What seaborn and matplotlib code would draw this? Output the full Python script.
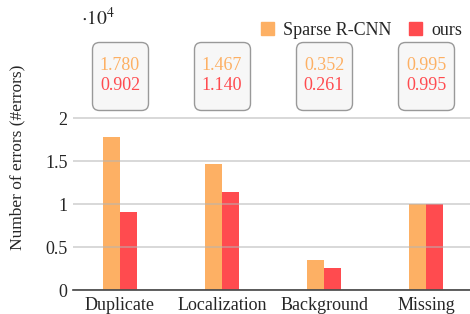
import pandas as pd
import matplotlib
matplotlib.use("Agg")
import matplotlib.pyplot as plt
import seaborn as sns
from matplotlib.patches import Patch
from matplotlib.offsetbox import DrawingArea, AnnotationBbox

# data (values in units of 10^4)
categories = ["Duplicate", "Localization", "Background", "Missing"]
methods = ["Sparse R-CNN", "ours"]
sparse_rcnn = [1.780, 1.467, 0.352, 0.995]
ours = [0.902, 1.140, 0.261, 0.995]
y_ticks = [0, 0.5, 1, 1.5, 2]
y_tick_labels = ["0", "0.5", "1", "1.5", "2"]

colors = {"Sparse R-CNN": "#FDB064", "ours": "#FF4B4F"}

df = pd.DataFrame({
    "category": categories * 2,
    "method": [methods[0]] * 4 + [methods[1]] * 4,
    "errors": sparse_rcnn + ours,
})

sns.set_style("white")
plt.rcParams["font.family"] = ["Liberation Serif", "DejaVu Serif"]
plt.rcParams["mathtext.fontset"] = "stix"

fig = plt.figure(figsize=(4.7, 3.14), dpi=100)
ax = fig.add_axes([0.1553, 0.0764, 0.8447, 0.7806])

sns.barplot(data=df, x="category", y="errors", hue="method", palette=colors,
            width=1 / 3, gap=0, saturation=1, ax=ax, legend=False, zorder=1,
            linewidth=0)

ax.set_xlim(-0.46, 3.43)
ax.set_ylim(0, 2.85)
ax.set_yticks(y_ticks)
ax.set_yticklabels(y_tick_labels)
ax.set_xlabel("")
ax.set_ylabel("Number of errors (#errors)", fontsize=12.5)
ax.yaxis.set_label_coords(-0.12, 0.543)
ax.tick_params(axis="both", labelsize=13, length=0)
ax.tick_params(axis="y", pad=4)
ax.tick_params(axis="x", pad=5)

ax.set_axisbelow(False)
ax.yaxis.grid(True, color="#b5b5b5", lw=1.2, alpha=0.6)
ax.xaxis.grid(False)
for side in ["left", "right", "top"]:
    ax.spines[side].set_visible(False)
ax.spines["bottom"].set_color("#444444")
ax.spines["bottom"].set_linewidth(1.2)
ax.spines["bottom"].set_zorder(5)

# value boxes above each group
box_y = 2.49
for i in range(len(categories)):
    frame = AnnotationBbox(DrawingArea(40, 49), (i, box_y), xycoords="data",
                           frameon=True, pad=0, annotation_clip=False,
                           bboxprops=dict(boxstyle="round,pad=0,rounding_size=0.5",
                                          fc="#f7f7f7", ec="#999999", lw=1.0))
    ax.add_artist(frame)
    ax.annotate(f"{sparse_rcnn[i]:.3f}", (i, box_y), xytext=(0, 7.2),
                textcoords="offset points", ha="center", va="center",
                fontsize=13, color=colors["Sparse R-CNN"], annotation_clip=False)
    ax.annotate(f"{ours[i]:.3f}", (i, box_y), xytext=(0, -7.2),
                textcoords="offset points", ha="center", va="center",
                fontsize=13, color=colors["ours"], annotation_clip=False)

handles = [Patch(color=colors[m]) for m in methods]
fig.legend(handles, methods, loc="upper right", bbox_to_anchor=(1.006, 0.965),
           ncol=2, frameon=False, fontsize=13, handlelength=0.7, handleheight=0.7,
           handletextpad=0.5, columnspacing=1.0, borderaxespad=0.2)

fig.text(81 / 470, 1 - 18 / 314, r"$\cdot10^4$", fontsize=14, ha="left", va="center")

fig.savefig("out.png", dpi=100)
